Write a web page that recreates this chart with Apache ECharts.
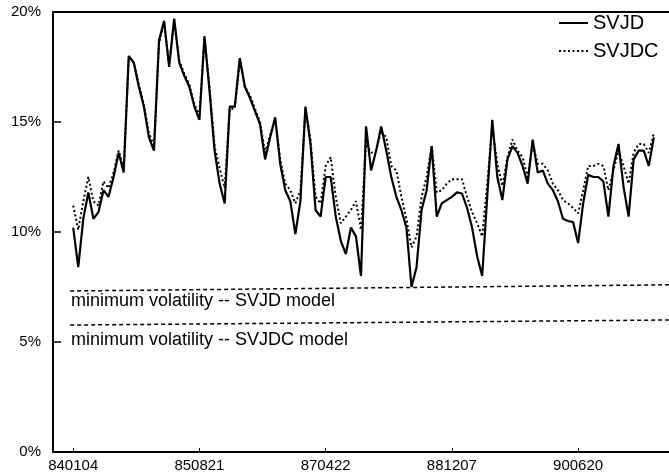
<!DOCTYPE html>
<html>
<head>
<meta charset="utf-8">
<script src="https://cdn.jsdelivr.net/npm/echarts@6/dist/echarts.min.js"></script>
<style>
  * { margin: 0; padding: 0; }
  html, body { background: #fff; }
  #main { width: 669px; height: 476px; }
</style>
</head>
<body>
<div id="main"></div>
<script>
// tick labels on the time axis (observation index where each date sits)
var tickIdx = [0, 25, 50, 75, 100];
var tickLabels = ['840104', '850821', '870422', '881207', '900620'];

// implied volatility in %, one value per observation
var svjd = [
  10.2, 8.4, 10.6, 11.8, 10.6, 10.9, 11.9, 11.6, 12.5, 13.6,
  12.7, 18.0, 17.7, 16.6, 15.7, 14.3, 13.7, 18.7, 19.6, 17.5,
  19.7, 17.7, 17.1, 16.6, 15.7, 15.1, 18.9, 16.4, 13.7, 12.2,
  11.3, 15.7, 15.7, 17.9, 16.6, 16.1, 15.5, 14.9, 13.3, 14.3,
  15.2, 13.1, 11.9, 11.4, 9.9, 11.4, 15.7, 14.0, 11.0, 10.7,
  12.5, 12.5, 10.7, 9.6, 9.0, 10.2, 9.8, 8.0, 14.8, 12.8,
  13.7, 14.8, 13.7, 12.5, 11.6, 11.0, 10.2, 7.5, 8.4, 11.0,
  11.9, 13.9, 10.7, 11.3, 11.45, 11.6, 11.8, 11.75, 11.1, 10.2,
  8.9, 8.0, 11.6, 15.1, 12.5, 11.45, 13.3, 13.9, 13.6, 13.0,
  12.2, 14.2, 12.7, 12.8, 12.2, 11.9, 11.4, 10.6, 10.5, 10.45,
  9.5, 11.3, 12.6, 12.5, 12.5, 12.3, 10.7, 13.0, 14.0, 12.05,
  10.7, 13.3, 13.7, 13.7, 13.0, 14.3
];
var svjdc = [
  11.2, 10.1, 11.4, 12.5, 11.4, 11.2, 12.3, 12.0, 12.7, 13.7,
  12.9, 17.9, 17.7, 16.7, 15.8, 14.5, 13.9, 18.6, 19.5, 17.6,
  19.6, 17.8, 17.2, 16.7, 15.8, 15.3, 18.8, 16.6, 13.9, 12.9,
  12.0, 15.6, 15.6, 17.8, 16.6, 16.2, 15.6, 15.0, 13.6, 14.4,
  15.2, 13.3, 12.2, 11.9, 11.3, 11.9, 15.6, 14.2, 11.6, 11.3,
  13.0, 13.4, 11.6, 10.4, 10.7, 11.0, 11.4, 10.1, 14.0, 13.6,
  13.7, 14.6, 14.3, 13.0, 12.8, 11.6, 10.6, 9.3, 9.8, 11.6,
  12.5, 13.9, 11.8, 11.9, 12.2, 12.4, 12.4, 12.4, 11.6, 10.9,
  10.4, 9.8, 12.2, 14.8, 13.1, 12.1, 13.4, 14.2, 13.7, 13.4,
  12.5, 14.0, 13.1, 13.1, 12.8, 12.2, 11.9, 11.45, 11.3, 11.1,
  10.85, 11.9, 13.0, 13.0, 13.1, 13.0, 11.9, 12.8, 13.7, 13.0,
  12.2, 13.6, 14.0, 14.0, 13.6, 14.5
];

// minimum volatility levels (left end, right end as drawn)
var minSVJD = [7.32, 7.6];
var minSVJDC = [5.77, 6.0];

var xMin = -4, xMax = 118;

function pairs(arr) {
  return arr.map(function (v, i) { return [i, v]; });
}

function getOption() {
  return {
    backgroundColor: '#fff',
    animation: false,
    textStyle: { fontFamily: 'Liberation Sans, Arial, sans-serif', color: '#000' },
    grid: { left: 53, right: 0, top: 12, bottom: 24 },
    legend: {
      orient: 'vertical',
      left: 553,
      top: 8,
      itemWidth: 29,
      itemHeight: 14,
      itemGap: 8,
      itemStyle: { opacity: 0 },   // line only, no symbol
      textStyle: { fontSize: 20, color: '#000', lineHeight: 20 },
      data: ['SVJD', 'SVJDC']
    },
    xAxis: [{
      type: 'value',
      min: xMin,
      max: xMax,
      axisLine: { lineStyle: { color: '#000', width: 2 } },
      axisTick: { inside: true, length: 4, lineStyle: { color: '#000' }, customValues: tickIdx },
      axisLabel: {
        customValues: tickIdx,
        color: '#000',
        fontSize: 15,
        margin: 6,
        formatter: function (v) { return tickLabels[tickIdx.indexOf(v)] || ''; }
      },
      splitLine: { show: false }
    }, {
      // top frame line
      type: 'value',
      position: 'top',
      min: xMin,
      max: xMax,
      axisLine: { lineStyle: { color: '#000', width: 2 } },
      axisTick: { show: false },
      axisLabel: { show: false },
      splitLine: { show: false }
    }],
    yAxis: {
      type: 'value',
      min: 0,
      max: 20,
      interval: 5,
      axisLine: { show: true, onZero: false, lineStyle: { color: '#000', width: 2 } },
      axisTick: { inside: true, length: 8, lineStyle: { color: '#000', width: 1.5 } },
      axisLabel: { color: '#000', fontSize: 15, margin: 12, formatter: '{value}%' },
      splitLine: { show: false }
    },
    series: [{
      name: 'SVJD',
      type: 'line',
      symbol: 'none',
      color: '#000',
      lineStyle: { color: '#000', width: 2.2 },
      data: pairs(svjd),
      markLine: {
        silent: true,
        symbol: 'none',
        label: { show: false },
        lineStyle: { color: '#000', width: 1.5, type: [4, 3] },
        data: [
          [{ coord: [-0.6, minSVJD[0]] }, { coord: [xMax, minSVJD[1]] }],
          [{ coord: [-0.6, minSVJDC[0]] }, { coord: [xMax, minSVJDC[1]] }]
        ]
      }
    }, {
      name: 'SVJDC',
      type: 'line',
      symbol: 'none',
      color: '#000',
      lineStyle: { color: '#000', width: 2, type: [2, 2.5] },
      data: pairs(svjdc)
    }],
    graphic: [
      { type: 'text', left: 71, top: 292, style: { text: 'minimum volatility -- SVJD model', font: '18px Liberation Sans, Arial, sans-serif', fill: '#000' } },
      { type: 'text', left: 71, top: 331, style: { text: 'minimum volatility -- SVJDC model', font: '18px Liberation Sans, Arial, sans-serif', fill: '#000' } }
    ]
  };
}

var chart = echarts.init(document.getElementById('main'));
chart.setOption(getOption());
</script>
</body>
</html>
